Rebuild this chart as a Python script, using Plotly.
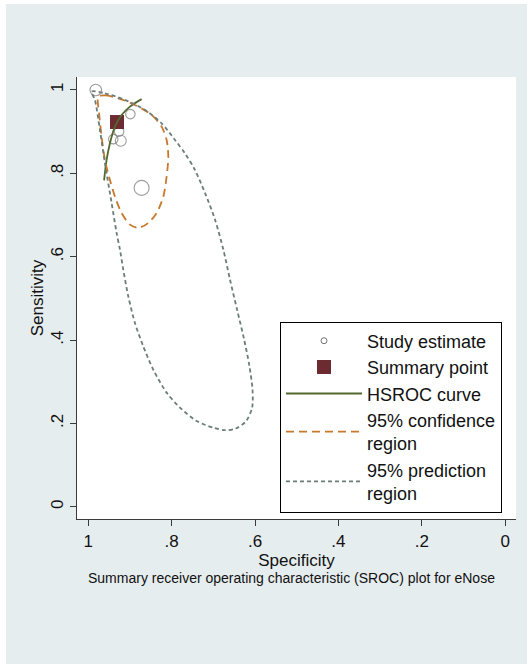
import plotly.graph_objects as go

# ---- data ----
study_spec = [0.982, 0.899, 0.926, 0.940, 0.922, 0.872]
study_sens = [1.000, 0.942, 0.900, 0.882, 0.878, 0.765]
study_weight = [11.5, 9.5, 9.5, 9.5, 11, 15]

summary_spec = [0.931]
summary_sens = [0.923]

hsroc_spec = [0.962, 0.956, 0.948, 0.936, 0.920, 0.900, 0.872]
hsroc_sens = [0.783, 0.832, 0.872, 0.912, 0.940, 0.960, 0.978]

ci_spec = [0.976, 0.960, 0.928, 0.888, 0.848, 0.824, 0.812, 0.808, 0.812, 0.820,
           0.836, 0.856, 0.880, 0.900, 0.920, 0.936, 0.948, 0.960, 0.968, 0.974, 0.976]
ci_sens = [0.984, 0.987, 0.980, 0.964, 0.940, 0.912, 0.880, 0.840, 0.792, 0.744,
           0.705, 0.681, 0.669, 0.677, 0.705, 0.744, 0.784, 0.832, 0.888, 0.944, 0.984]

pr_spec = [0.992, 0.960, 0.912, 0.864, 0.824, 0.792, 0.768, 0.744, 0.720, 0.696,
           0.676, 0.660, 0.643, 0.626, 0.614, 0.606, 0.607, 0.622, 0.646, 0.672,
           0.700, 0.740, 0.780, 0.812, 0.844, 0.868, 0.888, 0.904, 0.916, 0.924,
           0.932, 0.944, 0.960, 0.972, 0.984, 0.992]
pr_sens = [0.996, 0.992, 0.976, 0.952, 0.920, 0.880, 0.848, 0.808, 0.753, 0.689,
           0.617, 0.545, 0.473, 0.401, 0.341, 0.281, 0.238, 0.205, 0.188, 0.184,
           0.190, 0.206, 0.238, 0.274, 0.329, 0.385, 0.441, 0.505, 0.569, 0.617,
           0.657, 0.729, 0.824, 0.904, 0.976, 0.996]

tick_vals = [0, 0.2, 0.4, 0.6, 0.8, 1]
tick_text = ["0", ".2", ".4", ".6", ".8", "1"]

legend_labels = ["Study estimate", "Summary point", "HSROC curve",
                 "95% confidence<br>region", "95% prediction<br>region"]

# ---- styles ----
FONT = "Liberation Sans, Arial, sans-serif"
GREY_MK = "#737373"
MAROON = "#6c2a31"
GREEN = "#52692e"
ORANGE = "#c8782a"
PRED = "#6a7d78"
BG = "rgb(230,237,239)"
AX = "#3a3a3a"

fig = go.Figure()

fig.add_trace(go.Scatter(x=study_spec, y=study_sens, mode="markers",
                         marker=dict(symbol="circle-open", size=study_weight,
                                     color=GREY_MK, line=dict(width=1.1)),
                         showlegend=False, hoverinfo="skip"))
fig.add_trace(go.Scatter(x=[None], y=[None], mode="markers", name=legend_labels[0],
                         marker=dict(symbol="circle-open", size=6, color=GREY_MK,
                                     line=dict(width=1))))
fig.add_trace(go.Scatter(x=summary_spec, y=summary_sens, mode="markers", name=legend_labels[1],
                         marker=dict(symbol="square", size=14, color=MAROON)))
fig.add_trace(go.Scatter(x=hsroc_spec, y=hsroc_sens, mode="lines", name=legend_labels[2],
                         line=dict(color=GREEN, width=1.8, shape="spline")))
fig.add_trace(go.Scatter(x=ci_spec, y=ci_sens, mode="lines", name=legend_labels[3],
                         line=dict(color=ORANGE, width=1.8, dash="8px,5px", shape="spline",
                                   smoothing=0.8)))
fig.add_trace(go.Scatter(x=pr_spec, y=pr_sens, mode="lines", name=legend_labels[4],
                         line=dict(color=PRED, width=1.8, dash="4px,3px", shape="spline",
                                   smoothing=0.8)))

W, H = 530, 664
L, R, T, B = 77, 14, 77, 144.5
PW, PH = W - L - R, H - T - B


def px_x(px):
    return (px - L) / PW


def px_y(py):
    return (H - B - py) / PH


axis_common = dict(showgrid=False, zeroline=False, showline=True, linecolor=AX, linewidth=1.3,
                   ticks="outside", ticklen=6, tickwidth=1.3, tickcolor=AX,
                   tickvals=tick_vals, ticktext=tick_text,
                   tickfont=dict(family=FONT, size=17, color="#111"),
                   mirror=False)

white_strip = dict(type="rect", xref="paper", yref="paper", layer="above",
                   line=dict(width=0), fillcolor="white")

fig.update_layout(
    width=W, height=H, autosize=False,
    margin=dict(l=L, r=R, t=T, b=B, pad=0),
    paper_bgcolor=BG, plot_bgcolor="white",
    font=dict(family=FONT, color="#111"),
    xaxis=dict(range=[1.027, -0.026], title=dict(text="Specificity", font=dict(size=17),
               standoff=2), **axis_common),
    yaxis=dict(range=[-0.029, 1.031], tickangle=-90,
               title=dict(text="Sensitivity", font=dict(size=17), standoff=0), **axis_common),
    legend=dict(x=px_x(280), y=px_y(513), xanchor="left", yanchor="bottom",
                bgcolor="white", bordercolor="black", borderwidth=1,
                font=dict(family=FONT, size=18, color="#111"),
                itemwidth=76, tracegroupgap=0, itemclick=False),
    annotations=[dict(text="Summary receiver operating characteristic (SROC) plot for eNose",
                      xref="paper", yref="paper", x=px_x(291), y=px_y(579),
                      xanchor="center", yanchor="middle", showarrow=False,
                      font=dict(family=FONT, size=14, color="#111"))],
    shapes=[
        dict(white_strip, x0=px_x(-2), x1=px_x(6), y0=px_y(H + 2), y1=px_y(-2)),
        dict(white_strip, x0=px_x(-2), x1=px_x(W + 2), y0=px_y(4), y1=px_y(-2)),
        dict(white_strip, x0=px_x(527), x1=px_x(W + 2), y0=px_y(H + 2), y1=px_y(-2)),
    ],
)

fig.write_html("out.html", config={"displayModeBar": False},
               post_script="document.body.style.margin='0';document.body.style.overflow='hidden';")
